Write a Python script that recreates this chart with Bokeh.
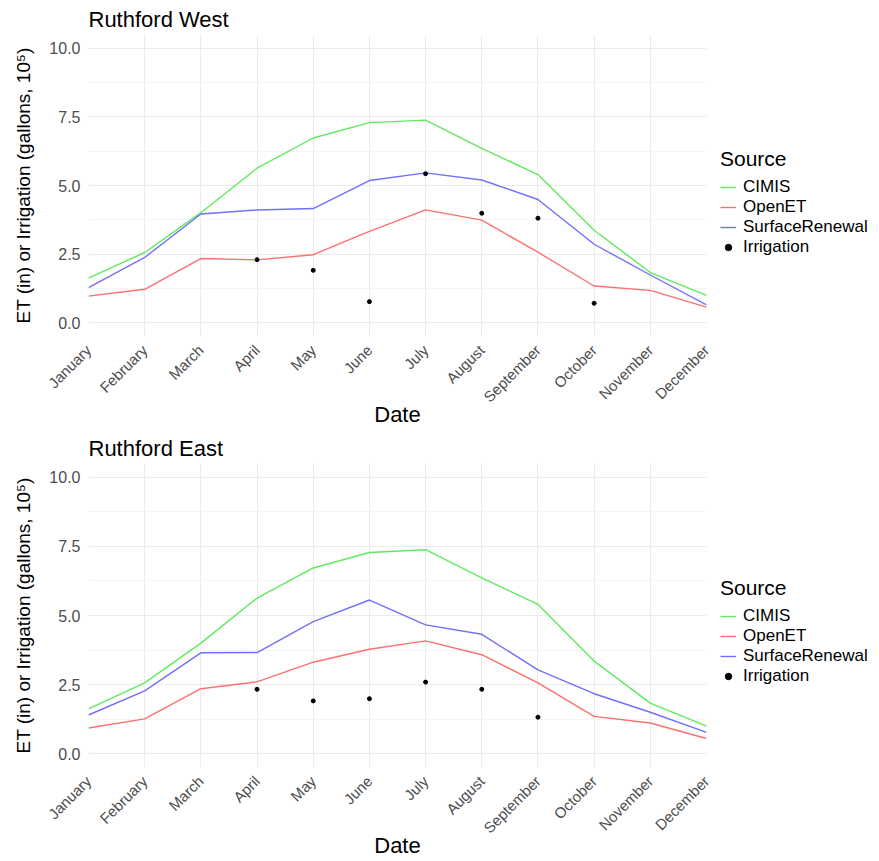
import math
from bokeh.plotting import figure
from bokeh.layouts import column, row
from bokeh.models import Range1d, FixedTicker, Legend, LegendItem
from bokeh.embed import file_html
from bokeh.resources import INLINE

# ---------------- data ----------------
months = ["January", "February", "March", "April", "May", "June",
          "July", "August", "September", "October", "November", "December"]
month_num = [1, 2, 3, 4, 5, 6, 7, 8, 9, 10, 11, 12]

west_cimis = [1.63, 2.56, 4.01, 5.63, 6.73, 7.29, 7.38, 6.35, 5.40, 3.37, 1.83, 1.00]
west_openet = [0.97, 1.22, 2.34, 2.29, 2.48, 3.33, 4.11, 3.74, 2.57, 1.34, 1.18, 0.57]
west_sr = [1.28, 2.38, 3.96, 4.11, 4.16, 5.18, 5.46, 5.20, 4.49, 2.86, 1.74, 0.65]
west_irr = [None, None, None, 2.30, 1.91, 0.77, 5.43, 3.99, 3.81, 0.71, None, None]

east_cimis = [1.62, 2.56, 4.00, 5.63, 6.72, 7.28, 7.38, 6.36, 5.40, 3.35, 1.83, 1.00]
east_openet = [0.93, 1.26, 2.35, 2.60, 3.31, 3.78, 4.08, 3.58, 2.56, 1.35, 1.11, 0.55]
east_sr = [1.40, 2.27, 3.65, 3.66, 4.78, 5.56, 4.66, 4.32, 3.03, 2.17, 1.50, 0.77]
east_irr = [None, None, None, 2.33, 1.91, 1.99, 2.59, 2.33, 1.32, None, None, None]

y_ticks = [0, 2.5, 5, 7.5, 10]
y_minor = [1.25, 3.75, 6.25, 8.75]
y_tick_labels = ["0.0", "2.5", "5.0", "7.5", "10.0"]

series_names = ["CIMIS", "OpenET", "SurfaceRenewal"]
series_colors = ["#5FEA5F", "#FF6F6F", "#7070FF"]

FONT = "Liberation Sans"
MAIN_W = 712


def add_series(p, cimis, openet, sr, irr, visible=True):
    renderers = []
    for vals, color in zip((cimis, openet, sr), series_colors):
        r = p.line(month_num, vals, line_color=color, line_width=1.4, visible=visible)
        renderers.append(r)
    ix = [m for m, v in zip(month_num, irr) if v is not None]
    iy = [v for v in irr if v is not None]
    s = p.scatter(ix, iy, size=4, color="black", marker="circle", visible=visible)
    return renderers, s


def make_panel(title, cimis, openet, sr, irr, height, top):
    frame_h = 310
    p = figure(width=MAIN_W, height=height,
               x_range=Range1d(1, 12), y_range=Range1d(-0.5, 10.5),
               output_backend="svg", toolbar_location=None,
               min_border_left=88, min_border_right=MAIN_W - 88 - 618,
               min_border_top=top, min_border_bottom=height - top - frame_h)
    p.outline_line_color = None
    p.background_fill_color = "white"

    p.title.text = title
    p.title.text_font = FONT
    p.title.text_font_size = "22px"
    p.title.text_font_style = "normal"
    p.title.text_color = "black"
    p.title.align = "left"
    p.title.standoff = 5

    # axes
    p.xaxis.ticker = FixedTicker(ticks=month_num)
    p.xaxis.major_label_overrides = {m: name for m, name in zip(month_num, months)}
    p.xaxis.major_label_orientation = math.pi / 4
    p.yaxis.ticker = FixedTicker(ticks=y_ticks, minor_ticks=y_minor)
    p.yaxis.major_label_overrides = {t: s for t, s in zip(y_ticks, y_tick_labels)}

    for ax in (p.xaxis[0], p.yaxis[0]):
        ax.axis_line_color = None
        ax.major_tick_line_color = None
        ax.minor_tick_line_color = None
        ax.major_label_text_font = FONT
        ax.major_label_text_color = "#4D4D4D"
        ax.axis_label_text_font = FONT
        ax.axis_label_text_font_style = "normal"
        ax.axis_label_text_color = "black"
    p.xaxis.major_label_standoff = 5
    p.yaxis.major_label_standoff = 2
    p.xaxis.major_label_text_font_size = "15px"
    p.yaxis.major_label_text_font_size = "16px"
    p.xaxis.axis_label = "Date"
    p.xaxis.axis_label_text_font_size = "22px"
    p.xaxis.axis_label_standoff = -12
    p.yaxis.axis_label = "ET (in) or Irrigation (gallons, 10\u2075)"
    p.yaxis.axis_label_text_font_size = "19px"
    p.yaxis.axis_label_standoff = 12

    # grid
    p.xgrid.grid_line_color = "#EBEBEB"
    p.xgrid.grid_line_width = 1
    p.ygrid.grid_line_color = "#EBEBEB"
    p.ygrid.grid_line_width = 1
    p.ygrid.minor_grid_line_color = "#F4F4F4"
    p.ygrid.minor_grid_line_width = 1

    add_series(p, cimis, openet, sr, irr)

    # legend panel (separate figure to the right, same styles, hidden glyphs)
    lg = figure(width=879 - MAIN_W, height=height,
                x_range=Range1d(1, 12), y_range=Range1d(-0.5, 10.5),
                output_backend="svg", toolbar_location=None,
                x_axis_type=None, y_axis_type=None,
                min_border_left=0, min_border_right=0,
                min_border_top=0, min_border_bottom=0)
    lg.outline_line_color = None
    lg.xgrid.visible = False
    lg.ygrid.visible = False
    lrs, ls = add_series(lg, cimis, openet, sr, irr, visible=False)
    big_dot = lg.scatter([m for m, v in zip(month_num, irr) if v is not None],
                         [v for v in irr if v is not None],
                         size=8, color="black", marker="circle", visible=False)

    items = [LegendItem(label=n, renderers=[r]) for n, r in zip(series_names, lrs)]
    items.append(LegendItem(label="Irrigation", renderers=[big_dot]))
    leg = Legend(items=items,
                 title="Source", title_text_font=FONT,
                 title_text_font_size="21px", title_text_font_style="normal",
                 title_text_color="black", title_standoff=6,
                 border_line_color=None, background_fill_alpha=0,
                 padding=0, margin=0,
                 label_text_font=FONT, label_text_font_size="17px",
                 label_text_color="black",
                 glyph_width=16, glyph_height=16, label_height=14,
                 label_standoff=7, spacing=-5,
                 location=(720 - MAIN_W, height - top - 317))
    lg.add_layout(leg)
    return row(p, lg)


top_row = make_panel("Ruthford West", west_cimis, west_openet, west_sr, west_irr, 430, 34)
bot_row = make_panel("Ruthford East", east_cimis, east_openet, east_sr, east_irr, 431, 33)

layout = column(top_row, bot_row)
open("out.html", "w").write(file_html(layout, INLINE))
